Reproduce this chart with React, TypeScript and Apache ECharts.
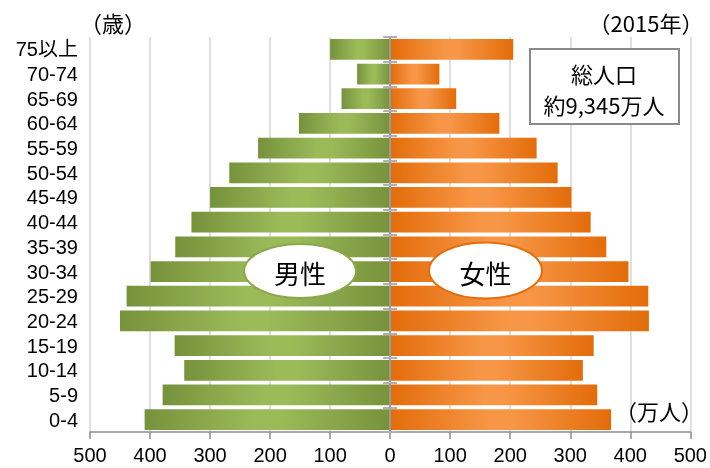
import React, { useEffect, useRef } from "react";
import * as echarts from "echarts";

const categories = ["0-4", "5-9", "10-14", "15-19", "20-24", "25-29", "30-34", "35-39", "40-44", "45-49", "50-54", "55-59", "60-64", "65-69", "70-74", "75以上"];
const maleValues = [409, 379, 343, 359, 450, 439, 399, 358, 331, 300, 268, 220, 152, 81, 55, 100];
const femaleValues = [368, 345, 321, 339, 431, 430, 397, 360, 334, 302, 279, 244, 182, 110, 82, 205];
const xTicks = { min: -500, max: 500, interval: 100 };

const FONT = "'Noto Sans CJK JP', 'Noto Sans', sans-serif";
const AXIS_FONT = "'Liberation Sans', 'Noto Sans CJK JP', sans-serif";

export default function App() {
  const ref = useRef<HTMLDivElement>(null);
  useEffect(() => {
    if (!ref.current) return;
    const chart = echarts.init(ref.current, null, { renderer: "svg" });
    const greenGrad = new echarts.graphic.LinearGradient(0, 0, 1, 0, [
      { offset: 0, color: "#76923C" },
      { offset: 0.45, color: "#9BBB59" },
      { offset: 0.55, color: "#9BBB59" },
      { offset: 1, color: "#76923C" },
    ]);
    const orangeGrad = new echarts.graphic.LinearGradient(0, 0, 1, 0, [
      { offset: 0, color: "#E36C0A" },
      { offset: 0.45, color: "#F79646" },
      { offset: 0.55, color: "#F79646" },
      { offset: 1, color: "#E36C0A" },
    ]);
    const zeroAxisBase = {
      type: "category",
      data: categories,
      position: "left",
      axisLabel: { show: false },
      splitLine: { show: false },
      axisLine: { show: true, onZero: true, onZeroAxisIndex: 0, lineStyle: { color: "#9a9a9a", width: 2 } },
      axisTick: { show: true, length: 7, lineStyle: { color: "#b0b0b0", width: 2 } },
      z: 5,
    };
    chart.setOption({
      animation: false,
      textStyle: { fontFamily: FONT },
      grid: { left: 90, right: 16, top: 37, bottom: 36, containLabel: false },
      xAxis: {
        type: "value",
        min: xTicks.min,
        max: xTicks.max,
        interval: xTicks.interval,
        axisLine: { show: true, lineStyle: { color: "#8c8c8c", width: 1.5 } },
        axisTick: { show: true, length: 7, lineStyle: { color: "#8c8c8c", width: 1.5 } },
        axisLabel: {
          formatter: (v: number) => String(Math.abs(v)),
          fontSize: 20,
          lineHeight: 20,
          color: "#000",
          fontFamily: AXIS_FONT,
          margin: 13,
        },
        splitLine: { show: true, lineStyle: { color: "#d4d4d4", width: 1.5 } },
      },
      yAxis: [
        {
          type: "category",
          data: categories,
          position: "left",
          axisLine: { show: false, onZero: false },
          axisTick: { show: false },
          axisLabel: { fontSize: 20, lineHeight: 20, color: "#000", fontFamily: AXIS_FONT, margin: 12, interval: 0 },
        },
        { ...zeroAxisBase, axisTick: { ...zeroAxisBase.axisTick, inside: false } },
        { ...zeroAxisBase, axisLine: { ...zeroAxisBase.axisLine, show: false }, axisTick: { ...zeroAxisBase.axisTick, inside: true } },
      ],
      series: [
        {
          name: "男性",
          type: "bar",
          yAxisIndex: 0,
          data: maleValues.map((v) => -v),
          barGap: "-100%",
          barCategoryGap: "16%",
          itemStyle: { color: greenGrad },
          z: 2,
        },
        {
          name: "女性",
          type: "bar",
          yAxisIndex: 0,
          data: femaleValues,
          barGap: "-100%",
          barCategoryGap: "16%",
          itemStyle: { color: orangeGrad },
          z: 2,
        },
      ],
      graphic: [
        { type: "text", x: 113, y: 22, style: { text: "（歳）", fontSize: 22, fontFamily: FONT, fill: "#000", textAlign: "center", textVerticalAlign: "middle" } },
        { type: "text", x: 646, y: 22, style: { text: "（2015年）", fontSize: 22, fontFamily: FONT, fill: "#000", textAlign: "center", textVerticalAlign: "middle" } },
        { type: "text", x: 659, y: 410, z: 10, style: { text: "（万人）", fontSize: 22, fontFamily: FONT, fill: "#000", textAlign: "center", textVerticalAlign: "middle" } },
        { type: "rect", z: 10, shape: { x: 530, y: 49, width: 149, height: 75 }, style: { fill: "#fff", stroke: "#8a8a8a", lineWidth: 2 } },
        { type: "text", z: 11, x: 604, y: 73, style: { text: "総人口", fontSize: 22, fontFamily: FONT, fill: "#000", textAlign: "center", textVerticalAlign: "middle" } },
        { type: "text", z: 11, x: 604, y: 104, style: { text: "約9,345万人", fontSize: 22, fontFamily: FONT, fill: "#000", textAlign: "center", textVerticalAlign: "middle" } },
        { type: "ellipse", z: 10, shape: { cx: 300, cy: 271, rx: 56, ry: 27 }, style: { fill: "#fff", stroke: "#8AA84A", lineWidth: 2 } },
        { type: "text", z: 11, x: 300, y: 272, style: { text: "男性", fontSize: 26, fontFamily: FONT, fill: "#000", textAlign: "center", textVerticalAlign: "middle" } },
        { type: "ellipse", z: 10, shape: { cx: 485.5, cy: 270.5, rx: 56.5, ry: 28 }, style: { fill: "#fff", stroke: "#E46C0A", lineWidth: 2 } },
        { type: "text", z: 11, x: 485.5, y: 272, style: { text: "女性", fontSize: 26, fontFamily: FONT, fill: "#000", textAlign: "center", textVerticalAlign: "middle" } },
      ],
    });
    return () => chart.dispose();
  }, []);
  return <div ref={ref} style={{ position: "fixed", left: 0, top: 0, width: 710, height: 468 }} />;
}
